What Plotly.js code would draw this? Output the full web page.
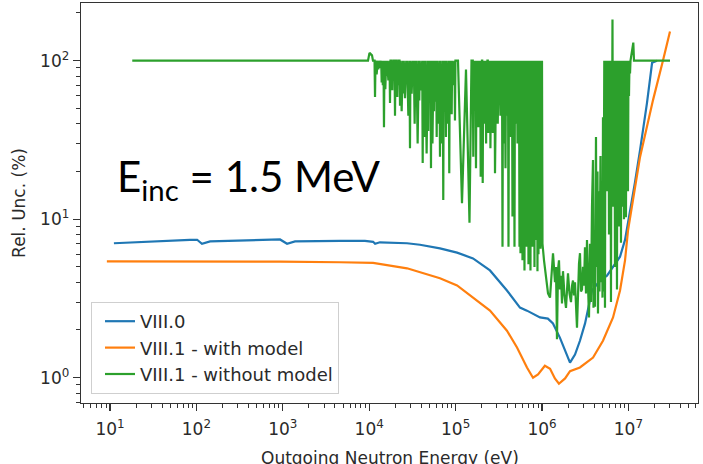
<!DOCTYPE html>
<html>
<head>
<meta charset="utf-8">
<script src="https://cdn.plot.ly/plotly-3.0.1.min.js"></script>
<style>
  html, body { margin: 0; padding: 0; background: #ffffff; }
  #plot { width: 703px; height: 464px; }
</style>
</head>
<body>
<div id="plot"></div>
<script>
// Relative uncertainty of the outgoing neutron spectrum, E_inc = 1.5 MeV

// VIII.0
const blueE = [11.1, 29, 84, 102, 116, 144, 417, 929, 1120, 1385, 4590, 8930, 1.11e4, 1.17e4, 1.33e4,
  2.74e4, 3.87e4, 6.59e4, 1.04e5, 1.59e5, 2.5e5, 3.93e5, 5.56e5, 6.7e5, 9.48e5, 1.17e6, 1.34e6,
  1.61e6, 2.11e6, 2.41e6, 2.75e6, 3.15e6, 3.79e6, 4.69e6, 5.65e6, 6.64e6, 8.0e6, 9.14e6, 1.045e7,
  1.19e7, 1.36e7, 1.64e7, 1.88e7, 2.14e7];
const blueU = [7.05, 7.25, 7.4, 7.42, 7.0, 7.25, 7.35, 7.45, 7.0, 7.25, 7.3, 7.3, 7.2, 7.0, 7.15,
  7.05, 6.9, 6.55, 6.15, 5.66, 4.75, 3.55, 2.77, 2.65, 2.4, 2.36, 2.2,
  1.79, 1.245, 1.4, 1.71, 2.2, 3.55, 4.1, 4.4, 5.0, 5.8, 7.4, 11,
  17, 27, 54, 97, 100];

// VIII.1 - with model
const orangeE = [9.2, 102, 929, 4590, 1.11e4, 2.74e4, 6.59e4, 1.04e5, 1.59e5, 2.5e5, 3.93e5, 5.14e5,
  6.7e5, 7.87e5, 9.0e5, 1.08e6, 1.24e6, 1.41e6, 1.57e6, 1.85e6, 2.11e6, 2.75e6, 3.9e6, 5.08e6,
  6.64e6, 8.0e6, 9.14e6, 9.9e6, 1.36e7, 1.93e7, 2.51e7, 3.03e7];
const orangeU = [5.42, 5.42, 5.4, 5.35, 5.3, 4.9, 4.24, 3.82, 3.2, 2.65, 1.98, 1.55,
  1.16, 1.0, 1.05, 1.19, 1.14, 0.99, 0.916, 0.99, 1.1, 1.16, 1.34, 1.71,
  2.4, 3.55, 5.5, 8.5, 24.5, 56.6, 100, 153];

// VIII.1 - without model, as [energy (eV), rel. unc. (%)]
const greenLow = [[18.1, 100], [9690, 100], [10080, 112], [10780, 108], [11060, 100]];

const greenKeV = [
  [11530,100],[11680,59],[11830,100],[12190,82],[12350,100],
  [12570,100],[12740,88],[12910,100],[13330,90],[13500,100],
  [13770,100],[13950,73],[14130,100],[14380,70],[14500,100],
  [14640,100],[14830,38],[15020,100],[15370,66],[15570,100],
  [15730,100],[15940,80],[16150,100],[16660,75],[16880,100],
  [17180,100],[17410,54],[17640,100],
  [18270,100],[18510,65],[18750,100],[19180,78],[19400,100],
  [19630,100],[19890,45],[20150,100],
  [20870,100],[21150,59],[21420,100],[21920,70],[22150,100],
  [22430,100],[22730,52],[23030,100],[23750,48],[24050,100],
  [24500,100],[24820,62],[25140,100],[25970,58],[26300,100],
  [26820,100],[27170,80],[27520,100],[28380,45],[28750,100],
  [29270,100],[29660,28],[30050,100],[31000,62],[31400,100],
  [31970,100],[32390,73],[32810,100],[33580,40],[33950,100],
  [34360,100],[34810,52],[35260,100],[36370,30],[36800,100],
  [37510,100],[38000,56],[38490,100],[39750,65],[40300,100],
  [41060,100],[41600,22.6],[42140,100],[42900,55],[43250,100],
  [43660,100],[44230,33],[44800,100],[46200,26],[46800,100],
  [47660,100],[48290,36],[48920,100],[50060,60],[50600,100],
  [51230,100],[51900,21],[52570,100],[54000,30],[54700,100],
  [55480,100],[56210,48],[56940,100],[58270,55],[58900,100],
  [59620,100],[60400,33],[61180,100],[63100,40],[63900,100],
  [65090,100],[65950,24.8],[66810,100],[68900,30],[69800,100],
  [71060,100],[72000,13.2],[72940,100],[74640,55],[75500,100],
  [76370,100],[77380,33],[78390,100],[80850,40],[81900,100],
  [83390,100],[84490,19.5],[85590,100],[87230,60],[88100,100],
  [88900,100],[90070,46],[91240,100],[94100,70],[95300,100],
  [97060,100],[98340,42],[99620,100]
];

const greenSub = [
  [106600,100],[118600,12.6],[131900,88],[144800,9.5],[152800,100],
  [158100,100],[160200,24.8],[162300,100],[166000,60],[168000,100],
  [170000,100],[172200,21],[174500,100],[177500,70],[179000,100],
  [180700,100],[183100,38],[185500,100],[189000,55],[191000,100],
  [192700,100],[195200,18.5],[197800,100],[200500,45],[202000,100],
  [203300,100],[206000,16.9],[208800,100],[212400,60],[214300,100],
  [216100,100],[218900,40],[221800,100],[225500,30],[228400,100],[231000,55],[233500,100],
  [236000,100],[239100,35],[242300,100],[246500,60],[249700,100],[253000,28],[255700,100],
  [258300,100],[261700,48],[265200,100],[269500,35],[273000,100],[277000,58],[279600,100],
  [282100,100],[285800,19.5],[289600,100],
  [295100,100],[299000,50],[303000,100],[307500,40],[311500,100],
  [316300,100],[320500,62],[324800,100],[330000,45],[334500,100],[339000,70]
];

const greenDense = [
  [344400,100],[349000,6.7],[353700,100],[358400,55],[363200,100],[368100,30],
  [373000,100],[378000,21],[383100,100],[388200,60],[393400,100],[398700,45],
  [404000,100],[409400,6.7],[414900,100],[420500,40],[426200,100],[431900,33],
  [437600,100],[443500,70],[449400,100],[455400,10.4],[461600,100],[467800,50],
  [474000,100],[480400,6.7],[486800,100],[493300,40],[500000,100],[506700,57],
  [513500,100],[520400,30],[527300,100],[534400,45],[541600,100],[548900,6.7],
  [556200,100],[563700,6.1],[571200,100],[578900,12],[586600,100],[594500,5.5],
  [602400,100],[610500,8],[618700,100],[627000,4.75],[635400,100],[643900,15],
  [652600,100],[661300,6.7],[670200,100],[679200,9],[688300,100],[697500,5.2],
  [706800,100],[716300,7],[725900,100],[735600,4.75],[745500,100],[755500,10],
  [765600,100],[775900,6.7],[786300,100],[796800,8],[807500,100],[818300,5],
  [829300,100],[840400,7.4],[851700,100],[863100,9],[874700,100],[886400,4.7],
  [898300,100],[910300,6],[922500,100],[934900,8],[947400,100],[960100,6.5],
  [973000,100],[986000,7.4],[1000000,100],[1013000,7]
];

const greenMeV = [
  [1055000,5.5],[1113000,4.2],[1174000,3.4],[1238000,3.2],[1305000,4.5],[1341000,6.1],
  [1414000,4.0],[1452000,5.0],[1491000,1.75],[1532000,4.8],[1573000,5.5],[1615000,3.6],
  [1659000,4.4],[1704000,2.94],[1750000,4.7],[1821000,3.3],[1896000,2.76],[1947000,4.0],
  [1999000,4.55],[2081000,3.4],[2166000,3.0],[2224000,3.8],[2285000,4.1],[2346000,3.3],
  [2410000,4.0],[2541000,2.07],[2610000,4.0],[2681000,5.25],[2753000,6.1],[2827000,3.5],
  [2904000,3.6],[2982000,5.0],[3062000,3.8],[3145000,6.65],[3230000,3.4],[3317000,7.4],
  [3407000,3.9],[3499000,2.4],[3593000,7.0],[3690000,3.0],[3790000,12],[3892000,23.6],
  [3944000,2.76],[4050000,8],[4105000,2.8],[4216000,33],[4273000,5],[4388000,20],
  [4446000,2.54],[4566000,15],[4627000,3.5],[4752000,25],[4816000,4],[4946000,11.4],
  [5013000,3.2],[5080000,44],[5148000,3.5],[5260000,100]
];

const greenHigh = [
  [5358000,2.76],[5430000,100],[5502000,44],[5576000,100],[5651000,15],[5727000,100],
  [5803000,30],[5881000,100],[5960000,8],[6040000,100],[6121000,40],[6203000,100],
  [6286000,3.0],[6371000,100],[6456000,20],[6543000,182],[6630000,12],[6719000,100],
  [6809000,30],[6900000,100],[6993000,5],[7087000,100],[7181000,25],[7277000,100],
  [7375000,3.6],[7474000,100],[7574000,14],[7676000,100],[7779000,9],[7883000,100],
  [7989000,20],[8096000,100],[8204000,7.1],[8314000,100],[8426000,12],[8539000,100],
  [8653000,30],[8769000,100],[8887000,10],[9006000,100],[9127000,20],[9249000,100],
  [9373000,10.3],[9499000,100],[9626000,40],[9755000,100],[9886000,15],[10020000,100],
  [10160000,60],[10300000,100],[10440000,83],[10580000,100],[11400000,130],[11610000,100],
  [30300000,100]
];

const greenPts = [].concat(greenLow, greenKeV, greenSub, greenDense, greenMeV, greenHigh);

const seriesNames = ['VIII.0', 'VIII.1 - with model', 'VIII.1 - without model'];
const seriesColors = ['#1f77b4', '#ff7f0e', '#2ca02c'];

const xTitle = 'Outgoing Neutron Energy (eV)';
const yTitle = 'Rel. Unc. (%)';
const xTickVals = [10, 100, 1e3, 1e4, 1e5, 1e6, 1e7];
const xTickText = ['10<sup>1</sup>', '10<sup>2</sup>', '10<sup>3</sup>', '10<sup>4</sup>',
  '10<sup>5</sup>', '10<sup>6</sup>', '10<sup>7</sup>'];
const yTickVals = [1, 10, 100];
const yTickText = ['10<sup>0</sup>', '10<sup>1</sup>', '10<sup>2</sup>'];

// 2..9 sub-decade ticks for a log axis between lo and hi
function minorTicks(lo, hi) {
  const out = [];
  for (let d = Math.floor(Math.log10(lo)); d <= Math.ceil(Math.log10(hi)); d++) {
    for (let m = 2; m <= 9; m++) {
      const v = m * Math.pow(10, d);
      if (v >= lo && v <= hi) out.push(v);
    }
  }
  return out;
}

const xRange = [0.6644, 7.8056];
const yRange = [-0.1596, 2.364];

const textFont = { family: 'DejaVu Sans, sans-serif', size: 17, color: '#2a2a2a' };
const legendFont = { family: 'DejaVu Sans, sans-serif', size: 18, color: '#2a2a2a' };
const axisColor = '#333333';

const traces = [
  { x: blueE, y: blueU },
  { x: orangeE, y: orangeU },
  { x: greenPts.map(p => p[0]), y: greenPts.map(p => p[1]) }
].map((t, i) => ({
  x: t.x, y: t.y, type: 'scatter', mode: 'lines',
  name: seriesNames[i], legendgroup: 'g' + i,
  line: { color: seriesColors[i], width: 2.2 },
  hoverinfo: 'skip'
}));

function axisBase(range, vals, text) {
  return {
    type: 'log', range: range, autorange: false, automargin: false,
    tickmode: 'array', tickvals: vals, ticktext: text,
    ticks: 'outside', ticklen: 7, tickwidth: 1.2, tickcolor: axisColor,
    showline: true, mirror: true, linecolor: axisColor, linewidth: 1.3,
    showgrid: false, zeroline: false, tickfont: textFont,
    minor: {
      tickmode: 'array',
      tickvals: minorTicks(Math.pow(10, range[0]), Math.pow(10, range[1])),
      ticks: 'outside', ticklen: 4, tickwidth: 1, tickcolor: axisColor, showgrid: false
    }
  };
}

const xaxis = axisBase(xRange, xTickVals, xTickText);
xaxis.ticklabelstandoff = 3;
const yaxis = axisBase(yRange, yTickVals, yTickText);
yaxis.title = { text: yTitle, font: textFont, standoff: 10 };

const layout = {
  width: 703, height: 464,
  margin: { l: 81, r: 5, t: 3, b: 61, pad: 0 },
  paper_bgcolor: '#ffffff', plot_bgcolor: '#ffffff',
  xaxis: xaxis, yaxis: yaxis,
  showlegend: true,
  legend: {
    x: 0.0162, y: 0.0225, xanchor: 'left', yanchor: 'bottom',
    bgcolor: 'rgba(255,255,255,0.85)', bordercolor: '#cfcfcf', borderwidth: 1,
    font: legendFont, tracegroupgap: 5, traceorder: 'normal', indentation: 8
  },
  annotations: [
    {
      text: 'E<sub>inc</sub> = 1.5 MeV',
      xref: 'paper', yref: 'paper', x: 0.0551, y: 0.484,
      xanchor: 'left', yanchor: 'bottom', showarrow: false,
      font: { family: 'Lato, Carlito, sans-serif', size: 42, color: '#000000' }
    },
    {
      // x-axis title, sitting low against the bottom edge of the figure
      text: xTitle,
      xref: 'paper', yref: 'paper', x: 0.5, y: -0.1075,
      xanchor: 'center', yanchor: 'top', showarrow: false,
      font: textFont
    }
  ]
};

Plotly.newPlot('plot', traces, layout, { staticPlot: true, displayModeBar: false });
</script>
</body>
</html>
